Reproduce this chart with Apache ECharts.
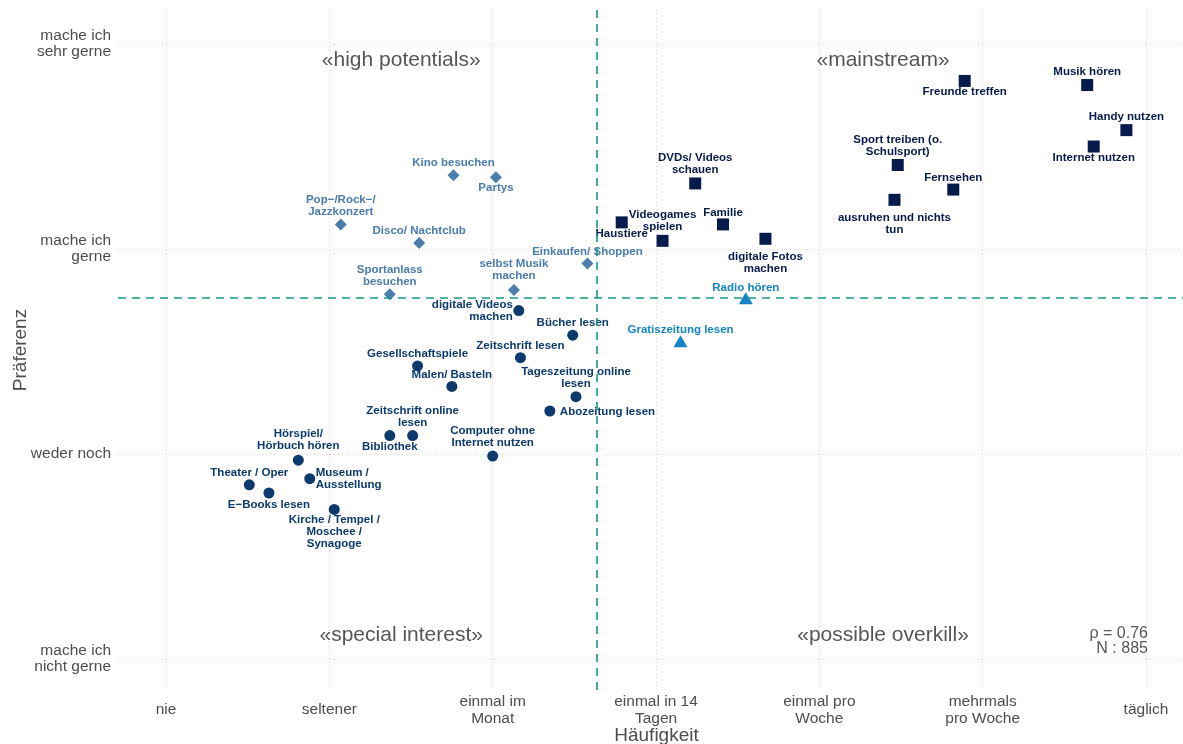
<!DOCTYPE html>
<html><head><meta charset="utf-8">
<script src="https://cdn.jsdelivr.net/npm/echarts@6/dist/echarts.min.js"></script>
<style>html,body{margin:0;padding:0;background:#fff}#c{width:1183px;height:744px}</style>
</head><body><div id="c"></div>
<script>
// ---------- DATA ----------
const xTickValues = [1, 2, 3, 4, 5, 6, 7];
const xTickLabels = ['nie', 'seltener', 'einmal im\nMonat', 'einmal in 14\nTagen', 'einmal pro\nWoche', 'mehrmals\npro Woche', 'täglich'];
const yTickValues = [1, 2, 3, 4];
const yTickLabels = ['mache ich\nnicht gerne', 'weder noch', 'mache ich\ngerne', 'mache ich\nsehr gerne'];

// «mainstream» (squares)
const squareNames = ['Musik hören', 'Freunde treffen', 'Handy nutzen', 'Internet nutzen', 'Sport treiben (o.\nSchulsport)', 'Fernsehen', 'ausruhen und nichts\ntun', 'DVDs/ Videos\nschauen', 'Haustiere', 'Videogames\nspielen', 'Familie', 'digitale Fotos\nmachen'];
const squareX = [6.64, 5.89, 6.88, 6.68, 5.48, 5.82, 5.46, 4.24, 3.79, 4.04, 4.41, 4.67];
const squareY = [3.80, 3.82, 3.58, 3.50, 3.41, 3.29, 3.24, 3.32, 3.13, 3.04, 3.12, 3.05];

// «possible overkill» (triangles)
const triangleNames = ['Radio hören', 'Gratiszeitung lesen'];
const triangleX = [4.55, 4.15];
const triangleY = [2.76, 2.55];

// «high potentials» (diamonds)
const diamondNames = ['Kino besuchen', 'Partys', 'Pop−/Rock−/\nJazzkonzert', 'Disco/ Nachtclub', 'Einkaufen/ Shoppen', 'selbst Musik\nmachen', 'Sportanlass\nbesuchen'];
const diamondX = [2.76, 3.02, 2.07, 2.55, 3.58, 3.13, 2.37];
const diamondY = [3.36, 3.35, 3.12, 3.03, 2.93, 2.80, 2.78];

// «special interest» (circles)
const circleNames = ['digitale Videos\nmachen', 'Bücher lesen', 'Zeitschrift lesen', 'Gesellschaftspiele', 'Malen/ Basteln', 'Tageszeitung online\nlesen', 'Abozeitung lesen', 'Zeitschrift online\nlesen', 'Bibliothek', 'Computer ohne\nInternet nutzen', 'Hörspiel/\nHörbuch hören', 'Theater / Oper', 'E−Books lesen', 'Museum /\nAusstellung', 'Kirche / Tempel /\nMoschee /\nSynagoge'];
const circleX = [3.16, 3.49, 3.17, 2.54, 2.75, 3.51, 3.35, 2.51, 2.37, 3.00, 1.81, 1.51, 1.63, 1.88, 2.03];
const circleY = [2.70, 2.58, 2.47, 2.43, 2.33, 2.28, 2.21, 2.09, 2.09, 1.99, 1.97, 1.85, 1.81, 1.88, 1.73];

// reference lines (means)
const refX = 3.64;
const refY = 2.76;

// quadrant titles
const quadrantNames = ['«high potentials»', '«mainstream»', '«special interest»', '«possible overkill»'];
const quadrantX = [2.44, 5.39, 2.44, 5.39];
const quadrantY = [3.92, 3.92, 1.117, 1.117];

// statistics
const statsText = 'ρ = 0.76\nN : 885';
const statsX = 7.012;
const statsY = 1.09;

// ---------- LAYOUT (label placement, px offsets from the point) ----------
const labelPlace = {
  'Musik hören': [0, -13], 'Freunde treffen': [0, 11], 'Handy nutzen': [0, -13], 'Internet nutzen': [0, 11],
  'Sport treiben (o.\nSchulsport)': [0, -19], 'Fernsehen': [0, -12], 'ausruhen und nichts\ntun': [0, 23.5],
  'DVDs/ Videos\nschauen': [0, -19.5], 'Haustiere': [0, 11], 'Videogames\nspielen': [0, -20], 'Familie': [0, -12],
  'digitale Fotos\nmachen': [0, 24],
  'Radio hören': [0, -10], 'Gratiszeitung lesen': [0, -11],
  'Kino besuchen': [0, -12], 'Partys': [0, 11], 'Pop−/Rock−/\nJazzkonzert': [0, -19], 'Disco/ Nachtclub': [0, -12],
  'Einkaufen/ Shoppen': [0, -12], 'selbst Musik\nmachen': [0, -20], 'Sportanlass\nbesuchen': [0, -18.5],
  'digitale Videos\nmachen': [-6, 0, 'right'], 'Bücher lesen': [0, -12], 'Zeitschrift lesen': [0, -12],
  'Gesellschaftspiele': [0, -12], 'Malen/ Basteln': [0, -12], 'Tageszeitung online\nlesen': [0, -19],
  'Abozeitung lesen': [10, 1, 'left'], 'Zeitschrift online\nlesen': [0, -19], 'Bibliothek': [0, 11],
  'Computer ohne\nInternet nutzen': [0, -19], 'Hörspiel/\nHörbuch hören': [0, -20], 'Theater / Oper': [0, -12],
  'E−Books lesen': [0, 12], 'Museum /\nAusstellung': [6, 0, 'left'], 'Kirche / Tempel /\nMoschee /\nSynagoge': [0, 22.5]
};

const FONT = '"Liberation Sans", Arial, Helvetica, sans-serif';

function pointSeries(names, xs, ys, symbol, size, color, extra) {
  const s = {
    type: 'scatter',
    symbol: symbol,
    symbolSize: size,
    itemStyle: { color: color, opacity: 1 },
    emphasis: { disabled: true },
    silent: true,
    z: 3,
    data: names.map((n, i) => {
      const L = labelPlace[n] || [0, -12];
      return {
        name: n,
        value: [xs[i], ys[i]],
        label: { offset: [L[0], L[1]], align: L[2] || 'center' }
      };
    }),
    label: {
      show: true,
      position: 'inside',
      formatter: p => p.name,
      color: color,
      fontFamily: FONT,
      fontSize: 11.5,
      fontWeight: 'bold',
      lineHeight: 12,
      verticalAlign: 'middle'
    }
  };
  return Object.assign(s, extra || {});
}

const gridLine = { show: true, lineStyle: { color: '#d3d3d3', type: [1, 3], width: 1 } };

const option = {
  backgroundColor: '#ffffff',
  animation: false,
  grid: { left: 118, right: -12, top: 10, bottom: 54, containLabel: false, outerBoundsMode: 'none' },
  xAxis: {
    type: 'value',
    min: 0.706, max: 7.30,
    axisLine: { show: false },
    axisTick: { show: false, customValues: xTickValues },
    axisLabel: {
      customValues: xTickValues,
      formatter: v => xTickLabels[Math.round(v) - 1],
      color: '#4d4d4d', fontFamily: FONT, fontSize: 15.5, lineHeight: 17,
      margin: 20, verticalAlign: 'middle', align: 'center'
    },
    splitLine: gridLine,
    name: 'Häufigkeit',
    nameLocation: 'middle',
    nameMoveOverlap: false,
    nameGap: 36,
    nameTextStyle: { color: '#4d4d4d', fontFamily: FONT, fontSize: 19 }
  },
  yAxis: {
    type: 'value',
    min: 0.849, max: 4.166,
    axisLine: { show: false },
    axisTick: { show: false, customValues: yTickValues },
    axisLabel: {
      customValues: yTickValues,
      formatter: v => yTickLabels[Math.round(v) - 1],
      color: '#4d4d4d', fontFamily: FONT, fontSize: 15.5, lineHeight: 16,
      margin: 7, align: 'right', verticalAlign: 'middle'
    },
    splitLine: gridLine,
    name: 'Präferenz',
    nameLocation: 'middle',
    nameMoveOverlap: false,
    nameRotate: 90,
    nameGap: 88,
    nameTextStyle: { color: '#4d4d4d', fontFamily: FONT, fontSize: 19 }
  },
  series: [
    {
      type: 'scatter', data: [], silent: true,
      markLine: {
        silent: true, symbol: ['none', 'none'], label: { show: false },
        lineStyle: { color: '#16968a', type: [8, 6], width: 1.6 },
        data: [{ xAxis: refX }, { yAxis: refY }]
      }
    },
    pointSeries(circleNames, circleX, circleY, 'circle', 11, '#0c3a6d'),
    pointSeries(diamondNames, diamondX, diamondY, 'diamond', 12, '#4a7cae'),
    pointSeries(squareNames, squareX, squareY, 'rect', 12, '#061a4b'),
    pointSeries(triangleNames, triangleX, triangleY, 'triangle', [14, 12], '#1584c6'),
    {
      type: 'scatter', silent: true, symbolSize: 1, itemStyle: { color: 'rgba(0,0,0,0)' },
      data: quadrantNames.map((n, i) => ({ name: n, value: [quadrantX[i], quadrantY[i]] })),
      label: { show: true, position: 'inside', formatter: p => p.name, color: '#2b2b2b', fontFamily: FONT, fontSize: 21, align: 'center', verticalAlign: 'middle' }
    },
    {
      type: 'scatter', silent: true, symbolSize: 1, itemStyle: { color: 'rgba(0,0,0,0)' },
      data: [{ name: statsText, value: [statsX, statsY] }],
      label: { show: true, position: 'inside', formatter: p => p.name, color: '#2b2b2b', fontFamily: FONT, fontSize: 16, lineHeight: 15, align: 'right', verticalAlign: 'middle' }
    }
  ]
};

const chart = echarts.init(document.getElementById('c'), null, { renderer: 'canvas' });
chart.setOption(option);
</script>
</body></html>
